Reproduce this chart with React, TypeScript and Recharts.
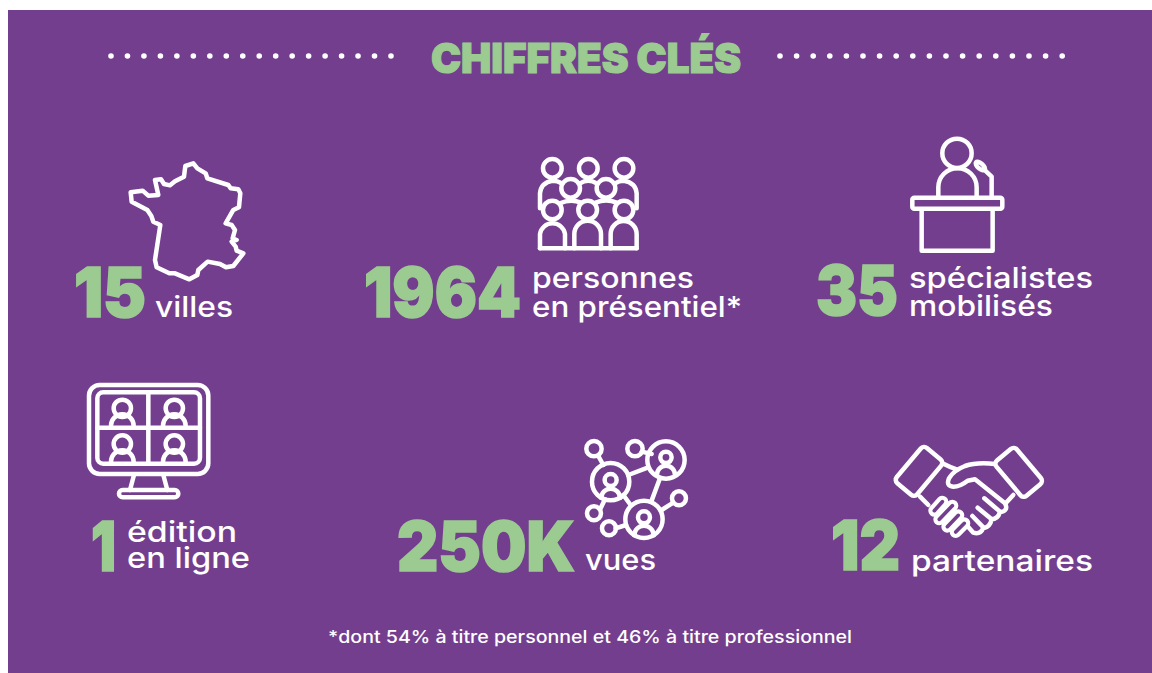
import { ScatterChart, Scatter, XAxis, YAxis } from "recharts";

const PURPLE = "#743e8e";
const GREEN = "#9bcb90";
const WHITE = "#ffffff";
const NUM_FONT = "Inter, sans-serif";

const kpiValues = ["15", "1964", "35", "1", "250K", "12"];
const kpiColumns = [0, 1, 2, 0, 1, 2];
const kpiRows = [0, 0, 0, 1, 1, 1];
const kpiCaptions = [
  ["villes"],
  ["personnes", "en présentiel*"],
  ["spécialistes", "mobilisés"],
  ["édition", "en ligne"],
  ["vues"],
  ["partenaires"],
];
const titleText = "CHIFFRES CLÉS";
const footnoteText = "*dont 54% à titre personnel et 46% à titre professionnel";

const chartData = kpiValues.map((value, i) => ({
  col: kpiColumns[i],
  row: kpiRows[i],
  value,
  captions: kpiCaptions[i],
  index: i,
}));

// offsets from the scaled anchor of each tile
const tileLayout = [
  { numX: -76, numW: 72, numY: 0, caps: [[5, 0, 78]], iconX: -90, iconY: -187 },
  { numX: -186, numW: 157, numY: 0, caps: [[-18, -29, 162], [-18, 0, 210]], iconX: -25, iconY: -167 },
  { numX: -134, numW: 82, numY: -2, caps: [[-41, -29, 184], [-41, -1, 144]], iconX: -150, iconY: -187 },
  { numX: -59, numW: 25, numY: 0, caps: [[-23, -29, 110], [-23, -3, 123]], iconX: -80, iconY: -196 },
  { numX: -153, numW: 178, numY: 0, caps: [[35, -1, 71]], iconX: -160, iconY: -141 },
  { numX: -119, numW: 69, numY: -1, caps: [[-39, 0, 182]], iconX: -65, iconY: -131 },
];

function Person({ x, y, r, bottom, w }: { x: number; y: number; r: number; bottom: number; w: number }) {
  return (
    <>
      <circle cx={x} cy={y} r={r} />
      <path d={`M${x - w} ${bottom} A${w} ${w} 0 0 1 ${x + w} ${bottom}`} />
    </>
  );
}

function FranceIcon() {
  return (
    <path d="M212 187 L248 182 L265 197 L295 195 L285 150 L303 148 L312 162 L330 166 L345 154 L372 140 L376 108 L400 100 L412 115 L437 130 L442 145 L505 165 L512 175 L535 178 L541 190 L537 232 L520 240 L497 280 L515 285 L525 300 L518 325 L530 330 L515 335 L527 350 L530 362 L550 370 L520 408 L498 412 L480 402 L443 395 L415 420 L412 435 L388 448 L345 430 L328 430 L290 412 L285 390 L301 285 L280 275 L274 258 L262 240 L215 215 Z" />
  );
}

function AudienceIcon() {
  return (
    <>
      {[82, 190, 297].map((x) => <circle key={x} cx={x} cy={55} r={28} />)}
      {[137, 243].map((x) => <circle key={x} cx={x} cy={115} r={28} />)}
      {[82, 188, 297].map((x) => <circle key={x} cx={x} cy={180} r={28} />)}
      <path d="M45 175 V130 Q48 98 82 92 Q98 92 110 100" />
      <path d="M335 175 V130 Q332 98 297 92 Q282 92 270 100" />
      <path d="M165 100 Q190 84 215 100" />
      <path d="M105 160 Q137 145 168 158" />
      <path d="M212 158 Q243 145 275 158" />
      <path d="M45 295 V252 A38 38 0 0 1 120 252 V295" />
      <path d="M148 295 V252 A40 40 0 0 1 228 252 V295" />
      <path d="M257 295 V252 A39 39 0 0 1 335 252 V295" />
      <path d="M45 295 H335" />
    </>
  );
}

function PodiumIcon() {
  return (
    <>
      <circle cx={471} cy={70} r={44} />
      <path d="M415 200 V172 A57 57 0 0 1 530 172 V200" />
      <rect x={337} y={203} width={270} height={33} rx={6} />
      <path d="M365 240 V362 H578 V240" />
      <path d="M575 200 V140 L552 118" />
      <ellipse cx={541} cy={108} rx={17} ry={8} transform="rotate(40 541 108)" />
    </>
  );
}

function MonitorIcon() {
  return (
    <>
      <rect x={57} y={30} width={358} height={267} rx={32} />
      <rect x={82} y={52} width={308} height={214} rx={18} />
      <path d="M235 52 V266 M82 158 H390" />
      <path d="M192 300 L180 345 M280 300 L292 345" />
      <rect x={147} y={345} width={178} height={22} rx={11} />
      <Person x={157} y={100} r={26} bottom={152} w={34} />
      <Person x={313} y={100} r={26} bottom={152} w={34} />
      <Person x={157} y={207} r={26} bottom={260} w={34} />
      <Person x={313} y={207} r={26} bottom={260} w={34} />
    </>
  );
}

function NetworkIcon() {
  return (
    <>
      <circle cx={662} cy={155} r={56} />
      <circle cx={828} cy={90} r={56} />
      <circle cx={762} cy={268} r={56} />
      <circle cx={612} cy={56} r={23} />
      <circle cx={735} cy={56} r={23} />
      <circle cx={867} cy={205} r={21} />
      <circle cx={612} cy={250} r={21} />
      <circle cx={657} cy={295} r={21} />
      <path d="M625 78 L640 105 M755 65 L785 72 M715 135 L775 112 M810 145 L785 212 M700 195 L722 225 M815 240 L850 218 M632 235 L645 208 M677 295 L708 285" />
      <Person x={662} y={150} r={18} bottom={204} w={28} />
      <Person x={828} y={82} r={17} bottom={134} w={27} />
      <Person x={762} y={262} r={18} bottom={316} w={29} />
    </>
  );
}

const fingerCapsules = [
  [148, 212, 172, 185],
  [163, 238, 202, 197],
  [187, 260, 220, 226],
  [212, 276, 238, 250],
];

function HandshakeIcon() {
  return (
    <>
      <rect x={62} y={25} width={80} height={138} rx={13} transform="rotate(40 102 94)" />
      <rect x={361} y={28} width={80} height={138} rx={13} transform="rotate(-40 401 97)" />
      <path d="M172 70 Q195 82 215 88" />
      <path d="M330 72 Q275 66 240 78 Q205 92 192 115 Q182 138 205 140 Q225 140 248 122 L270 118 L360 190 Q372 212 345 217 Q338 238 320 238 Q315 262 295 265 Q285 285 265 278 L240 250" />
      <path d="M298 175 L345 215 M278 203 L320 238 M262 228 L295 262" />
      <path d="M385 165 L362 190 M105 170 L130 195" />
      {fingerCapsules.map(([x1, y1, x2, y2]) => (
        <line key={x1} x1={x1} y1={y1} x2={x2} y2={y2} stroke={WHITE} strokeWidth={36} />
      ))}
      {fingerCapsules.map(([x1, y1, x2, y2]) => (
        <line key={x1} x1={x1} y1={y1} x2={x2} y2={y2} stroke={PURPLE} strokeWidth={11} />
      ))}
    </>
  );
}

const tileIcons = [FranceIcon, AudienceIcon, PodiumIcon, MonitorIcon, NetworkIcon, HandshakeIcon];

function KpiTile(props: any) {
  const { cx, cy, payload } = props;
  const layout = tileLayout[payload.index];
  const Icon = tileIcons[payload.index];
  return (
    <g>
      <g
        transform={`translate(${cx + layout.iconX} ${cy + layout.iconY}) scale(0.3333)`}
        fill="none"
        stroke={WHITE}
        strokeWidth={13.5}
        strokeLinecap="round"
        strokeLinejoin="round"
      >
        <Icon />
      </g>
      <text
        x={cx + layout.numX}
        y={cy + layout.numY}
        fontFamily={NUM_FONT}
        fontWeight={900}
        fontSize={69}
        fill={GREEN}
        stroke={GREEN}
        strokeWidth={1.6}
        textLength={layout.numW}
        lengthAdjust="spacingAndGlyphs"
      >
        {payload.value}
      </text>
      {payload.captions.map((line: string, i: number) => (
        <text
          key={line}
          x={cx + layout.caps[i][0]}
          y={cy + layout.caps[i][1]}
          fontFamily={NUM_FONT}
          fontWeight={500}
          fontSize={29}
          fill={WHITE}
          textLength={layout.caps[i][2]}
          lengthAdjust="spacingAndGlyphs"
        >
          {line}
        </text>
      ))}
    </g>
  );
}

export default function App() {
  return (
    <div style={{ position: "absolute", left: 8, top: 10, width: 1144, height: 663, background: PURPLE }}>
      <ScatterChart width={1144} height={663} margin={{ top: 307, right: 202, bottom: 102, left: 142 }}>
        <XAxis type="number" dataKey="col" domain={[0, 2]} hide />
        <YAxis type="number" dataKey="row" domain={[0, 1]} reversed hide />
        <line x1={103} y1={46} x2={384} y2={46} stroke={WHITE} strokeWidth={5.6} strokeLinecap="round" strokeDasharray="0 16.47" />
        <line x1={772} y1={46} x2={1055} y2={46} stroke={WHITE} strokeWidth={5.6} strokeLinecap="round" strokeDasharray="0 16.6" />
        <text x={423} y={63} fontFamily={NUM_FONT} fontWeight={900} fontSize={41} fill={GREEN} stroke={GREEN} strokeWidth={1.2} textLength={310} lengthAdjust="spacingAndGlyphs">
          {titleText}
        </text>
        <text x={320} y={643 - 10} fontFamily={NUM_FONT} fontWeight={500} fontSize={17} fill={WHITE} textLength={524} lengthAdjust="spacingAndGlyphs">
          {footnoteText}
        </text>
        <Scatter data={chartData} isAnimationActive={false} shape={KpiTile} />
      </ScatterChart>
    </div>
  );
}
